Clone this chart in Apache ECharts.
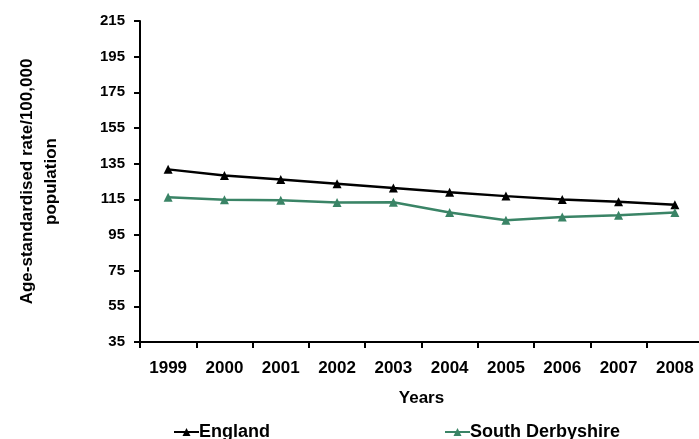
<!DOCTYPE html>
<html>
<head>
<meta charset="utf-8">
<script src="https://cdn.jsdelivr.net/npm/echarts@6/dist/echarts.min.js"></script>
<style>
html,body{margin:0;padding:0;background:#fff;}
#chart{width:699px;height:439px;}
</style>
</head>
<body>
<div id="chart"></div>
<script>
var years = ['1999','2000','2001','2002','2003','2004','2005','2006','2007','2008'];
var england = [131.8, 128.4, 126.1, 123.7, 121.3, 119.0, 116.8, 114.9, 113.6, 111.9];
var southDerbyshire = [116.2, 114.7, 114.5, 113.2, 113.4, 107.6, 103.3, 105.1, 106.1, 107.6];
var yTicks = {min: 35, max: 215, interval: 20};

var font = 'Liberation Sans, Arial, sans-serif';
var chart = echarts.init(document.getElementById('chart'));
chart.setOption({
  animation: false,
  backgroundColor: '#fff',
  grid: {left: 140, right: -4, top: 21, bottom: 97, containLabel: false, outerBoundsMode: 'none'},
  legend: {
    left: 168, top: 418,
    itemWidth: 25, itemHeight: 10, itemGap: 174,
    textStyle: {fontFamily: font, fontWeight: 'bold', fontSize: 18, color: '#000', padding: [0,0,0,-5]},
    data: ['England', 'South Derbyshire']
  },
  xAxis: {
    type: 'category',
    data: years,
    boundaryGap: true,
    name: 'Years',
    nameLocation: 'middle',
    nameGap: 48,
    nameTextStyle: {fontFamily: font, fontWeight: 'bold', fontSize: 17, color: '#000'},
    axisLine: {lineStyle: {color: '#000', width: 2}},
    axisTick: {show: true, length: 6, lineStyle: {color: '#000', width: 2}},
    axisLabel: {fontFamily: font, fontWeight: 'bold', fontSize: 17, color: '#000', margin: 18},
    splitLine: {show: false}
  },
  yAxis: {
    type: 'value',
    min: yTicks.min, max: yTicks.max, interval: yTicks.interval,
    name: 'Age-standardised rate/100,000\npopulation',
    nameLocation: 'middle',
    nameRotate: 90,
    nameGap: 77,
    nameTextStyle: {fontFamily: font, fontWeight: 'bold', fontSize: 17, color: '#000', lineHeight: 24},
    axisLine: {show: true, lineStyle: {color: '#000', width: 2}},
    axisTick: {show: true, length: 6, lineStyle: {color: '#000', width: 2}},
    axisLabel: {fontFamily: font, fontWeight: 'bold', fontSize: 15, color: '#000', margin: 15},
    splitLine: {show: false}
  },
  series: [
    {
      name: 'England', type: 'line', data: england,
      symbol: 'triangle', symbolSize: 9,
      lineStyle: {color: '#000', width: 2.5},
      itemStyle: {color: '#000'}
    },
    {
      name: 'South Derbyshire', type: 'line', data: southDerbyshire,
      symbol: 'triangle', symbolSize: 9,
      lineStyle: {color: '#3a8466', width: 2.5},
      itemStyle: {color: '#3a8466'}
    }
  ]
});
</script>
</body>
</html>
